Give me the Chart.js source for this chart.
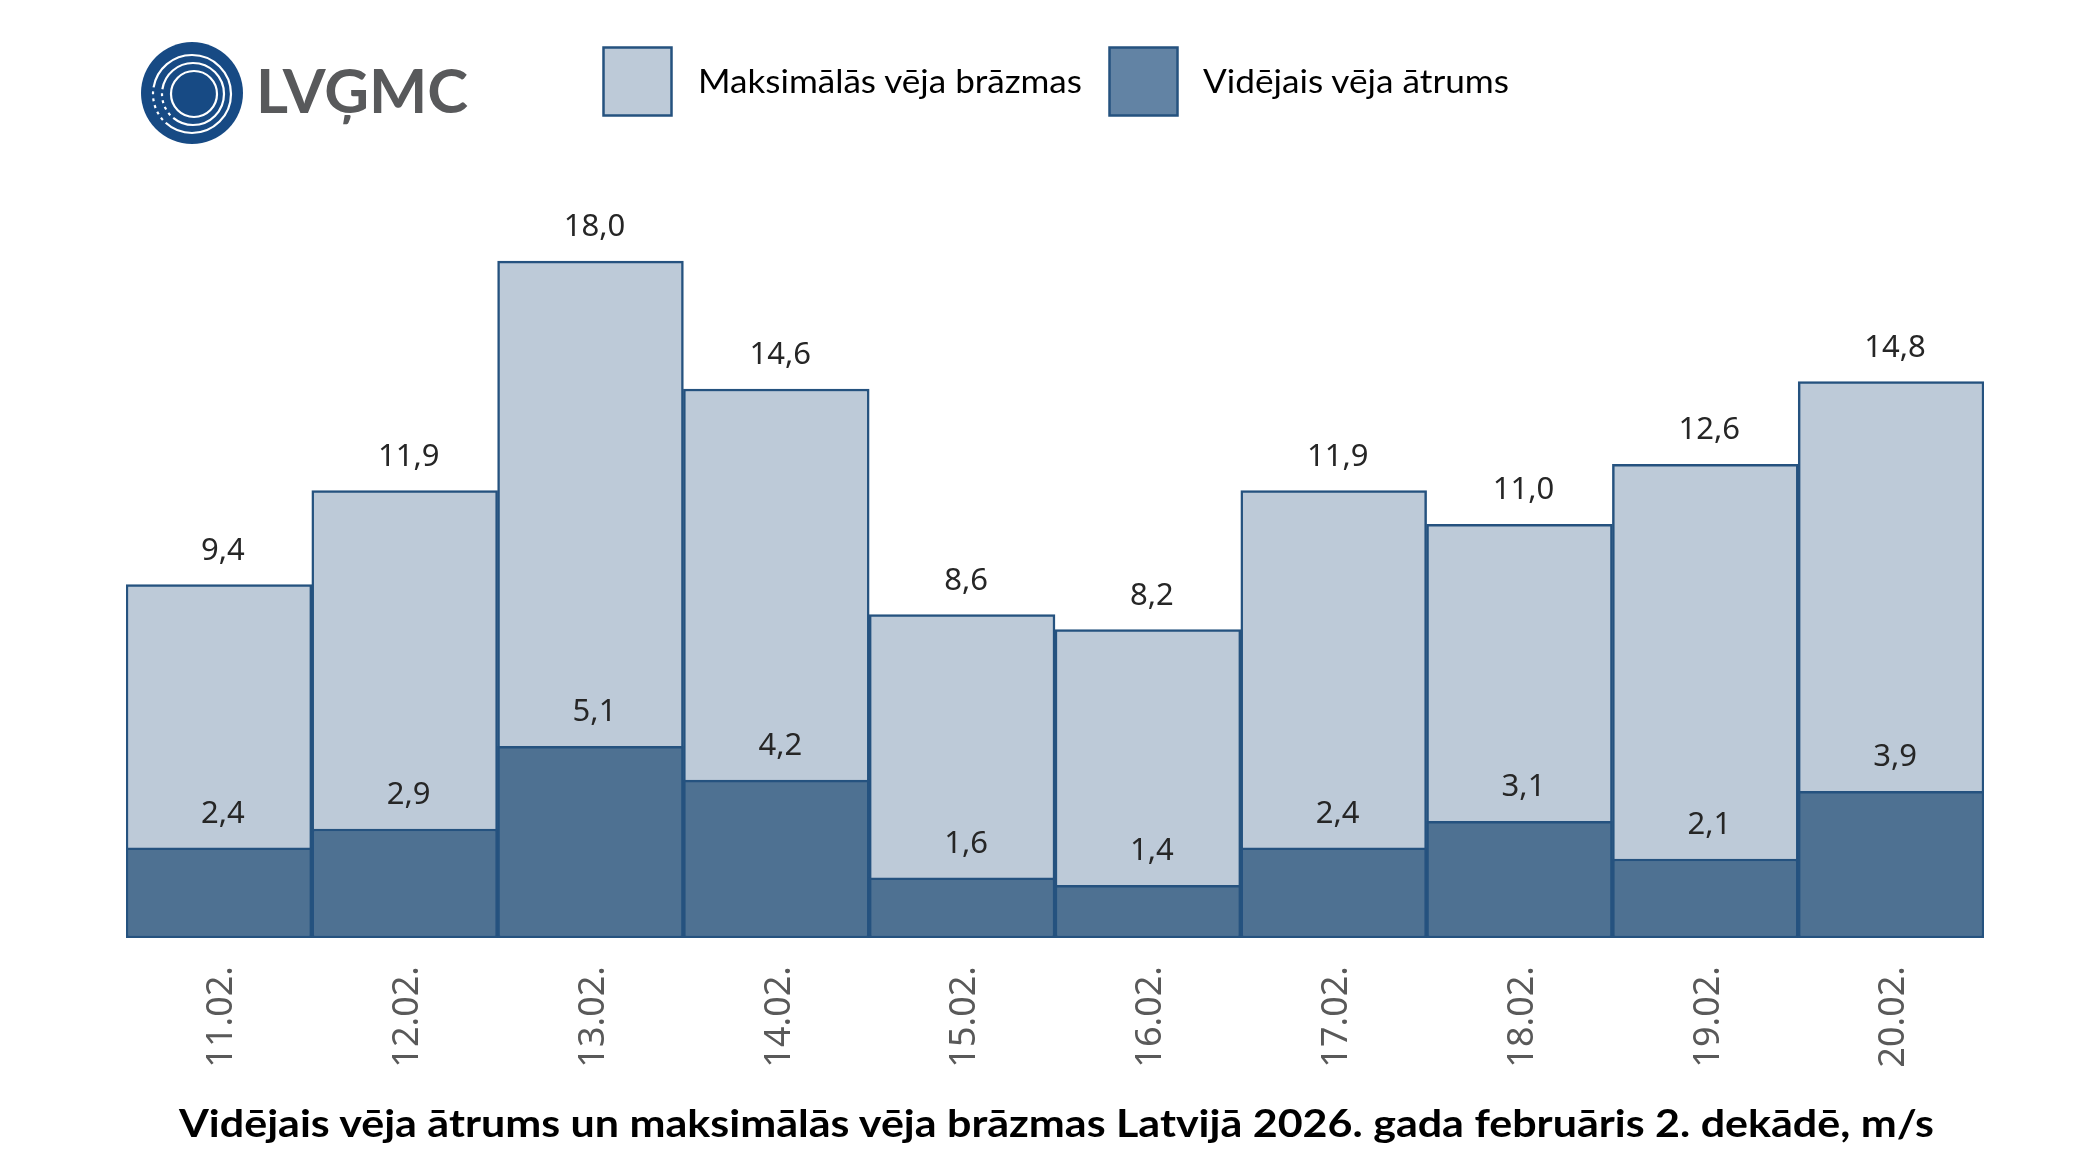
<!DOCTYPE html>
<html>
<head>
<meta charset="utf-8">
<script src="https://cdn.jsdelivr.net/npm/chart.js@4.4.1/dist/chart.umd.min.js"></script>
<style>
  html, body { margin: 0; padding: 0; background: #fff; }
  #wrap { position: relative; width: 2100px; height: 1170px; }
  #chart01 { position: absolute; left: 0; top: 0; }
  #deco { position: absolute; left: 0; top: 0; }
</style>
</head>
<body>
<div id="wrap">
  <canvas id="chart01" width="2100" height="1170"></canvas>
  <svg id="deco" width="2100" height="1170" xmlns="http://www.w3.org/2000/svg">
    <!-- logo -->
    <circle cx="192" cy="93" r="51" fill="#174A84"/>
    <g fill="none" stroke="#fff" stroke-width="2.2">
      <circle cx="194" cy="94" r="23"/>
      <circle cx="193" cy="94" r="31" stroke-dasharray="70 4 3 4 3 4 3 4 3 4 200"/>
      <circle cx="192" cy="94" r="39" stroke-dasharray="90 4 3 4 3 4 3 4 3 4 3 4 300"/>
    </g>
    <text x="256" y="113" font-family="Lato" font-weight="bold" font-size="62" fill="#58595B" textLength="212" lengthAdjust="spacingAndGlyphs">LVĢMC</text>
    <!-- legend -->
    <rect x="603.5" y="47.5" width="68" height="68" fill="#BDCAD8" stroke="#25527F" stroke-width="2.5"/>
    <text id="leg1" x="698" y="93" font-family="Lato" font-size="33" fill="#000" textLength="384" lengthAdjust="spacingAndGlyphs"></text>
    <rect x="1109.5" y="47.5" width="68" height="68" fill="#6283A4" stroke="#25527F" stroke-width="2.5"/>
    <text id="leg2" x="1203" y="93" font-family="Lato" font-size="33" fill="#000" textLength="306" lengthAdjust="spacingAndGlyphs"></text>
    <!-- title -->
    <text id="title" x="179" y="1137" font-family="Lato" font-weight="bold" font-size="38" fill="#000" textLength="1755" lengthAdjust="spacingAndGlyphs"></text>
  </svg>
</div>
<script>
var days = ["11.02.", "12.02.", "13.02.", "14.02.", "15.02.", "16.02.", "17.02.", "18.02.", "19.02.", "20.02."];
var maxGusts = [9.4, 11.9, 18.0, 14.6, 8.6, 8.2, 11.9, 11.0, 12.6, 14.8];
var avgSpeed = [2.4, 2.9, 5.1, 4.2, 1.6, 1.4, 2.4, 3.1, 2.1, 3.9];
var seriesNames = ["Maksimālās vēja brāzmas", "Vidējais vēja ātrums"];
var titleText = "Vidējais vēja ātrums un maksimālās vēja brāzmas Latvijā 2026. gada februāris 2. dekādē, m/s";

document.getElementById('leg1').textContent = seriesNames[0];
document.getElementById('leg2').textContent = seriesNames[1];
document.getElementById('title').textContent = titleText;

function fmt(v){
  return v.toFixed(1).replace('.', ',');
}

// value labels above each bar
var valueLabels = {
  id: 'valueLabels',
  afterDatasetsDraw: function(chart){
    var c = chart.ctx;
    c.save();
    c.font = '31px "Noto Sans"';
    c.fillStyle = '#262626';
    c.textAlign = 'center';
    c.textBaseline = 'alphabetic';
    chart.data.datasets.forEach(function(ds, i){
      var meta = chart.getDatasetMeta(i);
      meta.data.forEach(function(bar, j){
        c.fillText(fmt(ds.data[j]), bar.x + 4, bar.y - 25);
      });
    });
    c.restore();
  }
};

var ctx = document.getElementById('chart01').getContext('2d');
var myChart = new Chart(ctx, {
  type: 'bar',
  data: {
    labels: days,
    datasets: [
      {
        label: seriesNames[1],
        data: avgSpeed,
        backgroundColor: '#4E7192',
        borderColor: '#25527F',
        borderWidth: 2.5,
        borderSkipped: false,
        grouped: false,
        categoryPercentage: 1,
        barPercentage: 1
      },
      {
        label: seriesNames[0],
        data: maxGusts,
        backgroundColor: '#BDCAD8',
        borderColor: '#25527F',
        borderWidth: 2.5,
        borderSkipped: false,
        grouped: false,
        categoryPercentage: 1,
        barPercentage: 1
      }
    ]
  },
  options: {
    responsive: false,
    animation: false,
    devicePixelRatio: 1,
    layout: { padding: { left: 126, right: 116, top: 186, bottom: 0 } },
    plugins: {
      legend: { display: false },
      tooltip: { enabled: false }
    },
    scales: {
      x: {
        grid: { display: false, drawTicks: false },
        border: { display: false },
        ticks: {
          autoSkip: false,
          maxRotation: 90,
          minRotation: 90,
          padding: 28,
          labelOffset: 3,
          color: '#595959',
          font: { family: 'Noto Sans', size: 36 }
        },
        afterFit: function(scale){ scale.height = 232; }
      },
      y: {
        display: false,
        min: 0,
        max: 20
      }
    }
  },
  plugins: [valueLabels]
});
</script>
</body>
</html>
